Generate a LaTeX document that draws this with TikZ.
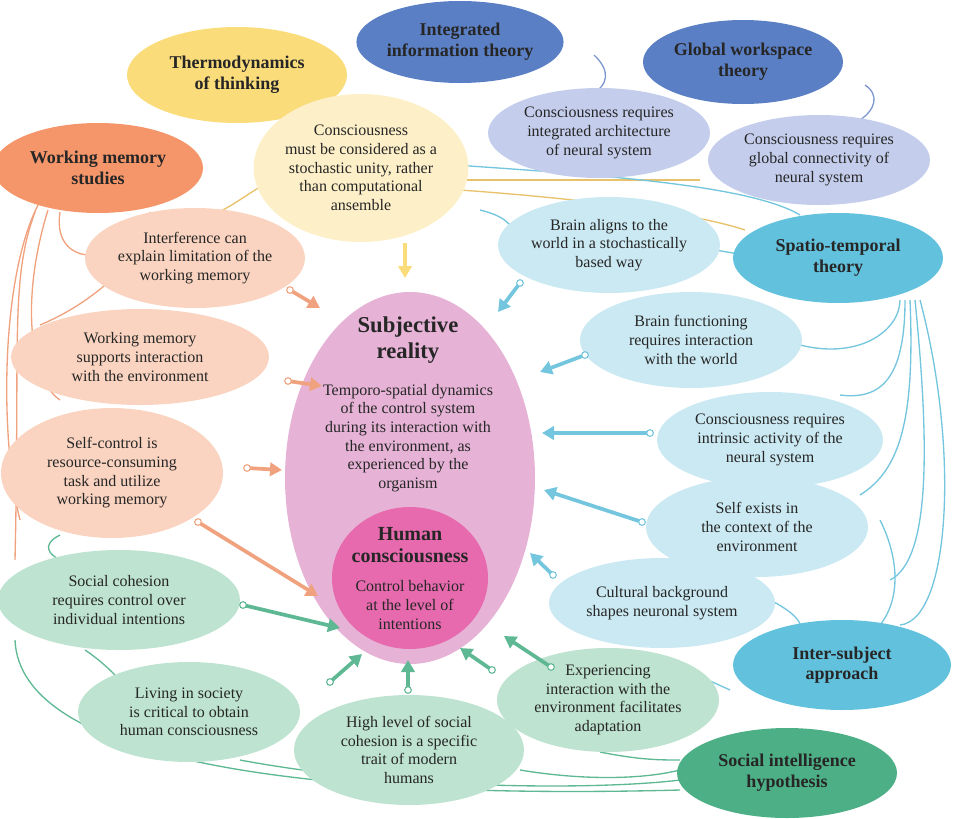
\documentclass[tikz,border=0pt]{standalone}
\usepackage{fontspec}
\setmainfont{Liberation Serif}
\usetikzlibrary{shapes.geometric,arrows.meta}
\definecolor{cYel}{HTML}{FBDC7A}
\definecolor{cYelL}{HTML}{FDF0C8}
\definecolor{cBlu}{HTML}{5B7FC4}
\definecolor{cLav}{HTML}{C4CEEC}
\definecolor{cOra}{HTML}{F4956A}
\definecolor{cOraL}{HTML}{FAD4C0}
\definecolor{cCya}{HTML}{62C2DD}
\definecolor{cCyaL}{HTML}{CBE9F2}
\definecolor{cGrn}{HTML}{4DAF85}
\definecolor{cGrnL}{HTML}{BEE3D0}
\definecolor{cPnk}{HTML}{E6B3D6}
\definecolor{cMag}{HTML}{E76AAE}
\definecolor{lOra}{HTML}{F0A27E}
\definecolor{lCya}{HTML}{74C6DE}
\definecolor{lGrn}{HTML}{5FB894}
\definecolor{lBlu}{HTML}{7F97D0}
\definecolor{lYel}{HTML}{E8C26A}
\tikzset{
  el/.style={ellipse, inner sep=0pt, align=center, font=\fontsize{12}{14}\selectfont, text=black!85},
  th/.style={el, font=\fontsize{13.5}{15.5}\selectfont\bfseries},
  arr/.style={line width=2.8pt, -{Triangle[length=9pt,width=10pt]}},
  tail/.style={circle, draw, fill=white, inner sep=0pt, minimum size=5pt, line width=0.8pt},
  con/.style={line width=1pt}
}
\newcommand{\E}[7]{\node[#1, fill=#2, minimum width=#5*0.75pt, minimum height=#6*0.75pt] (#7) at (#3,#4)}
\begin{document}
\begin{tikzpicture}[x=0.75pt,y=-0.75pt]
\useasboundingbox (0,0) rectangle (960,818);
% connector lines (behind)
\begin{scope}[con]
\draw[lOra] (38,205) .. controls (0,280) and (0,440) .. (20,520);
\draw[lOra] (48,210) .. controls (20,300) and (30,380) .. (60,400);
\draw[lOra] (60,212) .. controls (55,245) and (75,255) .. (90,255);
\draw[lOra] (150,212) .. controls (150,250) and (100,300) .. (40,325);
\draw[lOra] (35,212) .. controls (10,280) and (20,340) .. (15,560);
\draw[lYel] (290,170) .. controls (250,190) and (230,210) .. (210,215);
\draw[lYel] (455,180) -- (700,180);
\draw[lYel] (460,190) .. controls (600,200) and (700,215) .. (745,230);
\draw[lBlu] (594,55) .. controls (610,70) and (610,85) .. (590,95);
\draw[lBlu] (865,85) .. controls (880,95) and (875,110) .. (860,120);
\draw[lCya] (455,165) .. controls (600,175) and (750,185) .. (800,215);
\draw[lCya] (480,210) .. controls (500,215) and (505,220) .. (510,225);
\draw[lCya] (745,255) -- (715,250);
\draw[lCya] (900,300) .. controls (900,330) and (860,360) .. (800,345);
\draw[lCya] (905,300) .. controls (905,380) and (880,400) .. (840,395);
\draw[lCya] (910,300) .. controls (915,420) and (900,470) .. (860,495);
\draw[lCya] (915,300) .. controls (930,450) and (930,560) .. (890,580);
\draw[lCya] (920,300) .. controls (960,450) and (950,620) .. (900,625);
\draw[lCya] (880,520) .. controls (900,560) and (900,600) .. (880,625);
\draw[lCya] (730,690) -- (708,680);
\draw[lCya] (770,600) .. controls (790,610) and (800,620) .. (800,625);
\draw[lGrn] (60,535) .. controls (40,545) and (50,555) .. (60,560);
\draw[lGrn] (85,650) .. controls (100,660) and (110,670) .. (115,675);
\draw[lGrn] (15,640) .. controls (20,760) and (300,800) .. (680,790);
\draw[lGrn] (240,760) .. controls (400,790) and (600,790) .. (680,780);
\draw[lGrn] (520,770) .. controls (580,780) and (640,780) .. (680,770);
\draw[lGrn] (600,752) .. controls (640,760) and (660,760) .. (680,760);
\end{scope}
% big ellipses
\E{el}{cPnk}{410}{478}{250}{372}{sr}{};
\node[font=\fontsize{17}{19}\selectfont\bfseries, align=center, text=black!85] (srt) at (408,340) {Subjective\\reality};
\node[font=\fontsize{12}{14}\selectfont, align=center, text=black!85] (srb) at (408,438) {Temporo-spatial dynamics\\of the control system\\during its interaction with\\the environment, as\\experienced by the\\organism};
\E{el}{cMag}{410}{578}{156}{142}{hc}{};
\node[font=\fontsize{15}{17}\selectfont\bfseries, align=center, text=black!85] (hct) at (410,545) {Human\\consciousness};
\node[font=\fontsize{12}{14}\selectfont, align=center, text=black!85] (hcb) at (410,605) {Control behavior\\at the level of\\intentions};
% theories
\E{th}{cYel}{237}{75}{220}{96}{td}{Thermodynamics\\of thinking};
\E{th}{cBlu}{460}{42}{200}{82}{iit}{Integrated\\information theory};
\E{th}{cBlu}{743}{62}{200}{84}{gw}{Global workspace\\theory};
\E{th}{cOra}{98}{168}{210}{90}{wm}{Working memory\\studies};
\E{th}{cCya}{838}{258}{210}{90}{st}{Spatio-temporal\\theory};
\E{th}{cCya}{842}{665}{218}{90}{is}{Inter-subject\\approach};
\E{th}{cGrn}{787}{773}{220}{90}{si}{Social intelligence\\hypothesis};
% claims
\E{el}{cYelL}{361}{168}{205}{148}{cm}{Consciousness\\must be considered as a\\stochastic unity, rather\\than computational\\ansemble};
\E{el}{cLav}{599}{133}{222}{90}{ci}{Consciousness requires\\integrated architecture\\of neural system};
\E{el}{cLav}{819}{160}{222}{90}{cg}{Consciousness requires\\global connectivity of\\neural system};
\E{el}{cOraL}{195}{258}{220}{100}{ic}{Interference can\\explain limitation of the\\working memory};
\E{el}{cCyaL}{609}{245}{222}{96}{ba}{Brain aligns to the\\world in a stochastically\\based way};
\E{el}{cCyaL}{691}{340}{222}{96}{bf}{Brain functioning\\requires interaction\\with the world};
\E{el}{cOraL}{140}{357}{258}{96}{ws}{Working memory\\supports interaction\\with the environment};
\E{el}{cCyaL}{770}{440}{226}{96}{cr}{Consciousness requires\\intrinsic activity of the\\neural system};
\E{el}{cOraL}{112}{473}{222}{130}{sc}{Self-control is\\resource-consuming\\task and utilize\\working memory};
\E{el}{cCyaL}{757}{527}{222}{100}{se}{Self exists in\\the context of the\\environment};
\E{el}{cGrnL}{119}{600}{242}{100}{sq}{Social cohesion\\requires control over\\individual intentions};
\E{el}{cCyaL}{662}{603}{226}{90}{cb}{Cultural background\\shapes neuronal system};
\E{el}{cGrnL}{608}{700}{222}{104}{ei}{Experiencing\\interaction with the\\environment facilitates\\adaptation};
\E{el}{cGrnL}{189}{712}{222}{100}{ls}{Living in society\\is critical to obtain\\human consciousness};
\E{el}{cGrnL}{409}{750}{230}{110}{hl}{High level of social\\cohesion is a specific\\trait of modern\\humans};
% arrows
\coordinate (y0) at (405,243); \coordinate (y1) at (405,278);
\draw[arr, draw=cYel] (y0) -- (y1);
\foreach \n/\a/\b/\c/\d/\col in {
 o1/290/290/320/308/lOra, o2/288/381/322/386/lOra, o3/247/468/282/470/lOra, o4/198/522/318/596/lOra,
 b1/520/283/498/312/lCya, b2/585/355/540/372/lCya, b3/650/433/542/433/lCya, b4/642/522/544/490/lCya, b5/553/575/530/553/lCya,
 g1/243/605/340/628/lGrn, g2/330/682/362/654/lGrn, g3/408/690/408/660/lGrn, g4/492/670/460/648/lGrn, g5/551/667/504/636/lGrn}{
  \coordinate (\n s) at (\a,\b); \coordinate (\n e) at (\c,\d);
  \draw[arr, draw=\col] (\n s) -- (\n e);
  \node[tail, draw=\col] at (\n s) {};
}
\end{tikzpicture}
\end{document}
